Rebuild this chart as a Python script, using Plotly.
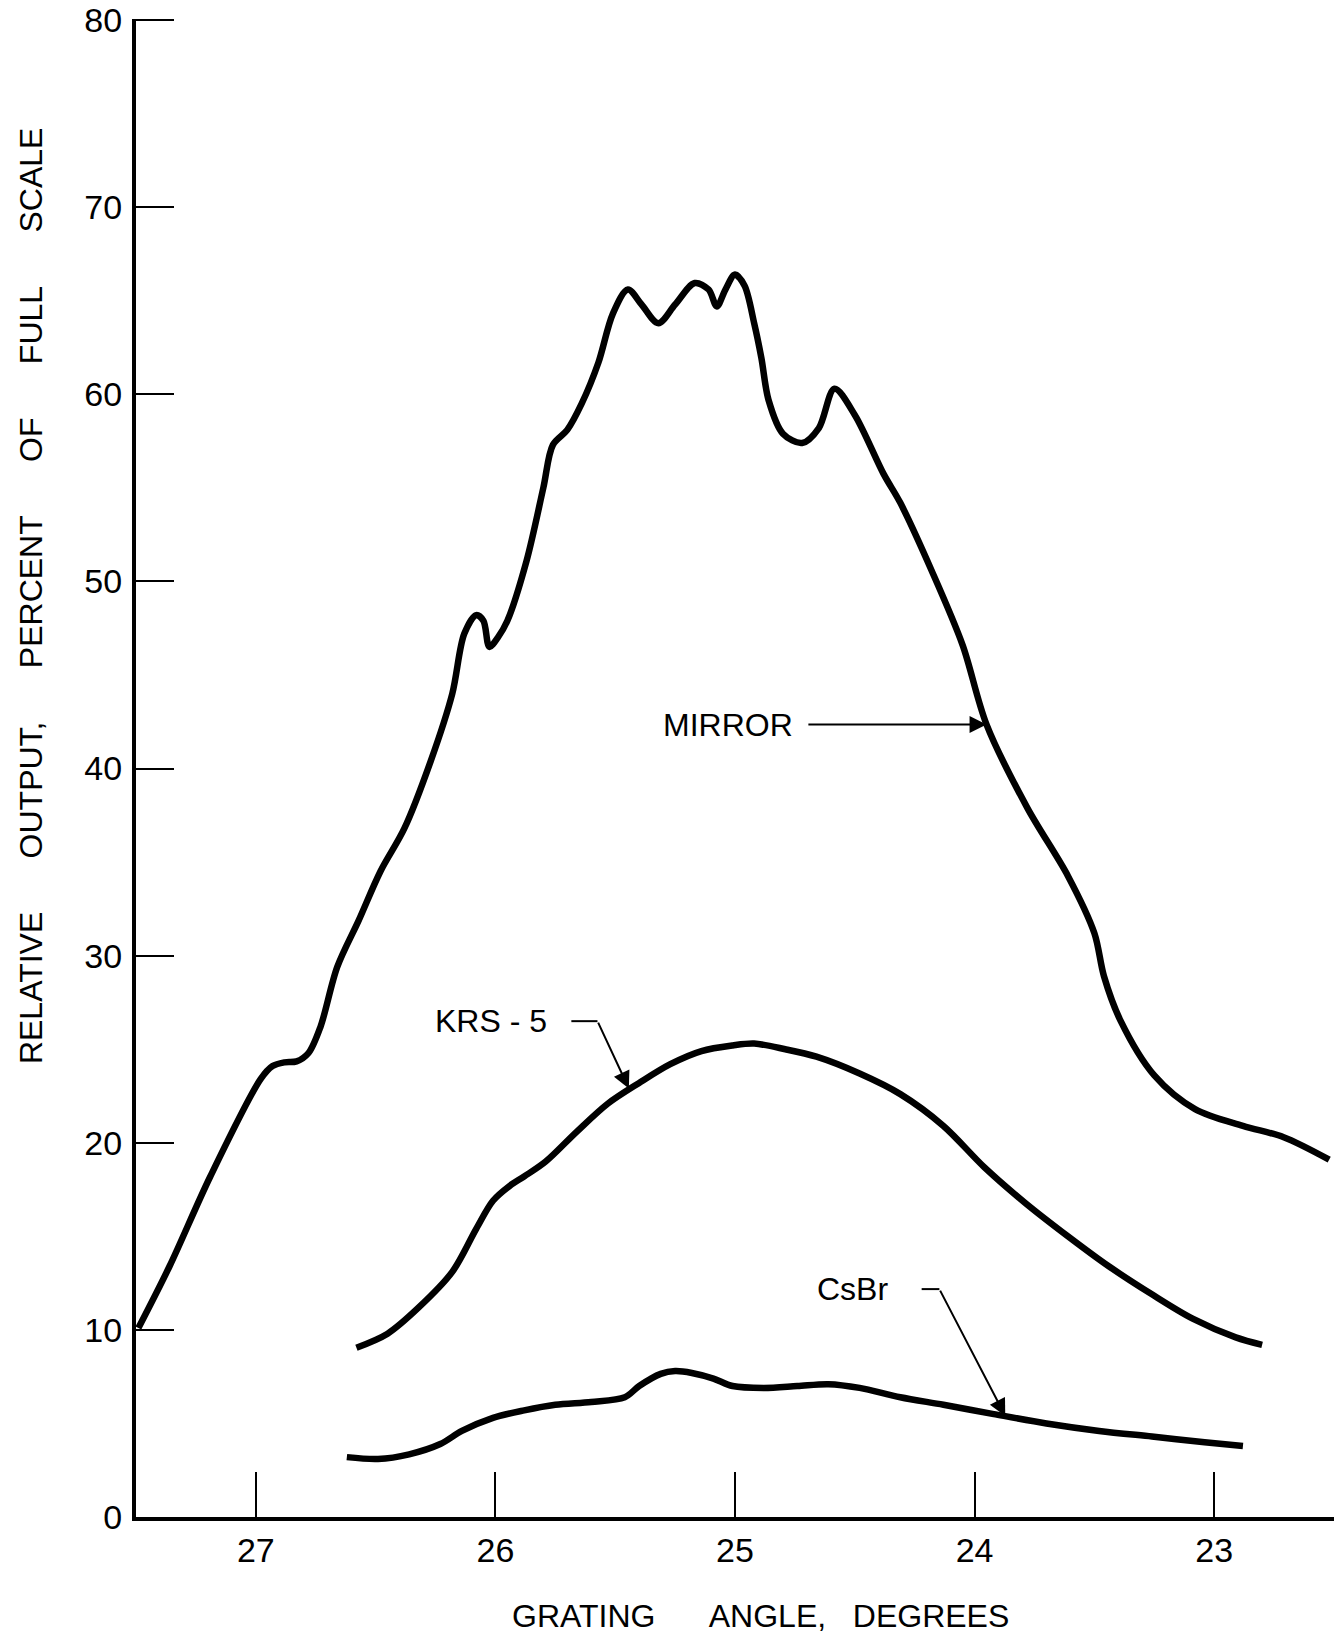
import plotly.graph_objects as go

# ---------------- data ----------------
mirror_angle = [27.49, 27.36, 27.19, 26.98, 26.93, 26.88, 26.83, 26.78, 26.73, 26.66,
                26.57, 26.48, 26.38, 26.27, 26.18, 26.13, 26.08, 26.05, 26.025, 25.99,
                25.95, 25.87, 25.80, 25.76, 25.70, 25.64, 25.57, 25.51, 25.447, 25.39,
                25.32, 25.25, 25.168, 25.11, 25.076, 25.04, 25.0, 24.96, 24.92, 24.89,
                24.86, 24.80, 24.72, 24.65, 24.585, 24.50, 24.38, 24.31, 24.18, 24.05,
                23.95, 23.78, 23.61, 23.50, 23.46, 23.39, 23.25, 23.08, 22.88, 22.71, 22.52]
mirror_output = [10.1, 13.4, 18.2, 23.4, 24.1, 24.3, 24.35, 24.8, 26.2, 29.4,
                 31.9, 34.5, 36.8, 40.4, 44.0, 47.2, 48.2, 47.9, 46.5, 47.0,
                 47.9, 51.1, 55.0, 57.3, 58.1, 59.5, 61.7, 64.3, 65.6, 64.8,
                 63.8, 64.8, 65.95, 65.6, 64.7, 65.6, 66.4, 65.8, 63.8, 61.95,
                 59.7, 57.9, 57.4, 58.2, 60.3, 58.9, 55.75, 54.2, 50.6, 46.6,
                 42.35, 37.9, 34.25, 31.2, 28.9, 26.5, 23.6, 21.8, 20.9, 20.3, 19.1]

krs5_angle = [26.58, 26.45, 26.32, 26.18, 26.08, 26.01, 25.94, 25.88, 25.79, 25.66,
              25.53, 25.40, 25.27, 25.14, 25.01, 24.92, 24.79, 24.66, 24.48, 24.31,
              24.13, 23.96, 23.79, 23.61, 23.44, 23.26, 23.09, 22.91, 22.80]
krs5_output = [9.05, 9.8, 11.2, 13.1, 15.4, 16.9, 17.7, 18.2, 19.0, 20.6,
               22.1, 23.2, 24.2, 24.9, 25.2, 25.3, 25.0, 24.6, 23.7, 22.6,
               20.9, 18.7, 16.8, 15.0, 13.4, 11.9, 10.6, 9.6, 9.2]

csbr_angle = [26.62, 26.49, 26.36, 26.23, 26.14, 26.01, 25.88, 25.75, 25.60, 25.46,
              25.40, 25.31, 25.25, 25.18, 25.09, 25.01, 24.88, 24.74, 24.61, 24.48,
              24.31, 24.13, 23.92, 23.70, 23.48, 23.26, 23.04, 22.88]
csbr_output = [3.2, 3.1, 3.35, 3.9, 4.6, 5.3, 5.7, 6.0, 6.15, 6.4,
               7.0, 7.65, 7.8, 7.7, 7.4, 7.0, 6.9, 7.0, 7.1, 6.9,
               6.4, 6.0, 5.5, 5.0, 4.6, 4.3, 4.0, 3.8]

x_ticks = [27, 26, 25, 24, 23]
y_ticks = [0, 10, 20, 30, 40, 50, 60, 70, 80]
y_tick_text = ["0", "10", "20", "30", "40", "50", "60", "70", "80"]

# curve labels: text, label position, leader stub end, arrow head on the curve
label_names = ["MIRROR", "KRS - 5", "CsBr"]
label_x = [25.03, 26.02, 24.51]
label_y = [42.35, 26.5, 12.18]
stub_start_x = [24.70, 25.683, 24.221]
stub_end_x = [24.70, 25.574, 24.147]
head_x = [23.95, 25.443, 23.872]
head_y = [42.35, 22.9, 5.4]

NB = "\u00a0"
x_title = "GRATING" + NB * 6 + "ANGLE," + NB * 3 + "DEGREES"
y_title = (NB * 6).join(["RELATIVE", "OUTPUT,", "PERCENT", "OF", "FULL", "SCALE"])

FONT = "Liberation Sans, Arial, sans-serif"

fig = go.Figure()
for xs, ys, nm in [(mirror_angle, mirror_output, "MIRROR"),
                   (krs5_angle, krs5_output, "KRS-5"),
                   (csbr_angle, csbr_output, "CsBr")]:
    fig.add_trace(go.Scatter(x=xs, y=ys, mode="lines", name=nm,
                             line=dict(color="black", width=6.5, shape="spline", smoothing=0.9),
                             cliponaxis=False, showlegend=False))

for i, name in enumerate(label_names):
    fig.add_annotation(x=label_x[i], y=label_y[i], text=name, showarrow=False,
                       font=dict(family=FONT, size=32, color="black"),
                       xanchor="center", yanchor="middle")
    fig.add_shape(type="line", x0=stub_start_x[i], x1=stub_end_x[i],
                  y0=label_y[i], y1=label_y[i],
                  line=dict(color="black", width=2))
    fig.add_annotation(x=head_x[i], y=head_y[i], ax=stub_end_x[i], ay=label_y[i],
                       axref="x", ayref="y", xref="x", yref="y", text="",
                       showarrow=True, arrowhead=2, arrowsize=1.7, arrowwidth=2,
                       arrowcolor="black", standoff=0, startstandoff=0)

# axis titles (placed as in the reference, off-centre)
fig.add_annotation(xref="paper", yref="paper", x=0.5217, y=-0.0661, text=x_title,
                   showarrow=False, xanchor="center", yanchor="middle",
                   font=dict(family=FONT, size=32, color="black"))
fig.add_annotation(xref="paper", yref="paper", x=-0.0876, y=0.6148, text=y_title,
                   showarrow=False, xanchor="center", yanchor="middle", textangle=-90,
                   font=dict(family=FONT, size=32, color="black"))

fig.update_layout(
    width=1340, height=1640,
    margin=dict(l=136, r=6, t=19, b=123),
    paper_bgcolor="white", plot_bgcolor="white",
    font=dict(family=FONT, size=32, color="black"),
    showlegend=False,
    xaxis=dict(range=[27.5, 22.5], tickvals=x_ticks, ticktext=[str(v) for v in x_ticks],
               ticks="inside", ticklen=45, tickwidth=2, tickcolor="black",
               showline=True, linewidth=4, linecolor="black", automargin=False,
               showgrid=False, zeroline=False, ticklabelstandoff=0,
               ticklabeloverflow="allow",
               tickfont=dict(family=FONT, size=34, color="black")),
    yaxis=dict(range=[0, 80.06], tickvals=y_ticks, ticktext=y_tick_text,
               ticks="inside", ticklen=38, tickwidth=2, tickcolor="black",
               showline=True, linewidth=4, linecolor="black", automargin=False,
               showgrid=False, zeroline=False, ticklabelstandoff=3,
               ticklabeloverflow="allow",
               tickfont=dict(family=FONT, size=34, color="black")),
)

# remove the default 8 px page margin so the figure sits at the window's corner
fig.write_html("out.html", config={"displayModeBar": False},
               post_script="document.body.style.margin='0';document.body.style.overflow='hidden';")
